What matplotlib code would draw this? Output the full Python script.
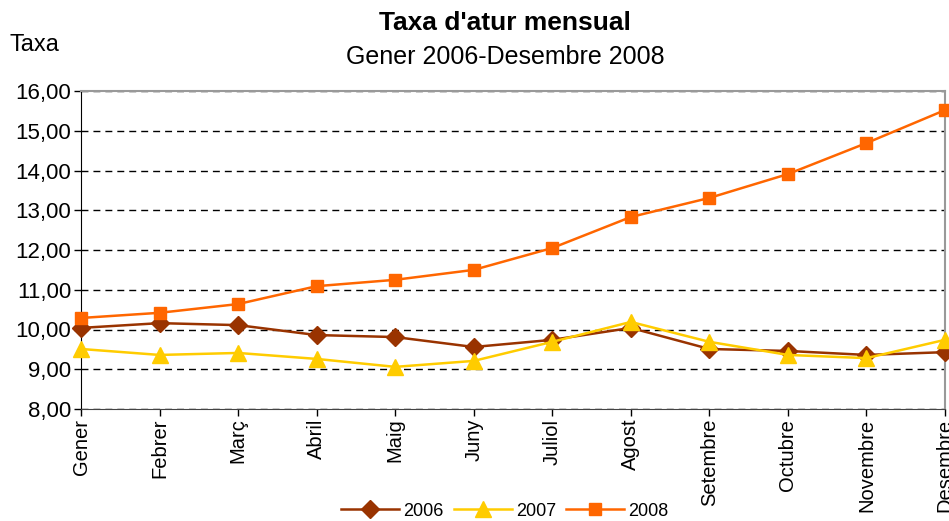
import matplotlib.pyplot as plt
import numpy as np

plt.rcParams['font.family'] = ['Liberation Sans', 'DejaVu Sans']

mesos = ['Gener', 'Febrer', 'Març', 'Abril', 'Maig', 'Juny', 'Juliol',
         'Agost', 'Setembre', 'Octubre', 'Novembre', 'Desembre']
taxa_2006 = [10.04, 10.16, 10.11, 9.86, 9.81, 9.56, 9.74, 10.04, 9.51, 9.46, 9.36, 9.43]
taxa_2007 = [9.51, 9.36, 9.41, 9.26, 9.06, 9.21, 9.69, 10.19, 9.69, 9.36, 9.28, 9.74]
taxa_2008 = [10.29, 10.42, 10.64, 11.09, 11.25, 11.50, 12.05, 12.83, 13.31, 13.91, 14.69, 15.52]

fig = plt.figure(figsize=(9.49, 5.21), dpi=100)
ax = fig.add_axes([81/949, 1-409/521, (945-81)/949, (409-91)/521])

x = np.arange(len(mesos))
ax.plot(x, taxa_2006, color='#993300', marker='D', markersize=9, lw=1.8, label='2006', clip_on=False, zorder=3)
ax.plot(x, taxa_2007, color='#FFCC00', marker='^', markersize=11, lw=1.8, label='2007', clip_on=False, zorder=3)
ax.plot(x, taxa_2008, color='#FF6600', marker='s', markersize=9, lw=1.8, label='2008', clip_on=False, zorder=3)

ax.set_xlim(0, 11)
ax.set_ylim(8, 16)
ax.set_yticks(np.arange(8, 17, 1))
ax.set_yticklabels([('%.2f' % v).replace('.', ',') for v in np.arange(8, 17, 1)], fontsize=16)
ax.set_xticks(x)
ax.set_xticklabels(mesos, rotation=90, fontsize=14.5)
ax.tick_params(direction='out', length=5, width=1, pad=2)
ax.yaxis.grid(True, linestyle=(0, (5, 3.6)), color='black', linewidth=1)
ax.set_axisbelow(True)
for s in ['top', 'right']:
    ax.spines[s].set_color('#999999')
    ax.spines[s].set_linewidth(1.5)
ax.spines['left'].set_color('black')
ax.spines['bottom'].set_color('#444444')

fig.text(505/949, 1-23/521, "Taxa d'atur mensual", ha='center', va='center', fontsize=19, fontweight='bold')
fig.text(505/949, 1-57/521, "Gener 2006-Desembre 2008", ha='center', va='center', fontsize=18)
fig.text(10/949, 1-45/521, "Taxa", ha='left', va='center', fontsize=17)

fig.legend(loc='center', bbox_to_anchor=(505/949, 1-511/521), ncol=3, frameon=False,
           fontsize=13, handlelength=3.2, columnspacing=0.55, handletextpad=0.25, borderaxespad=0)

fig.savefig('out.png', dpi=100)
